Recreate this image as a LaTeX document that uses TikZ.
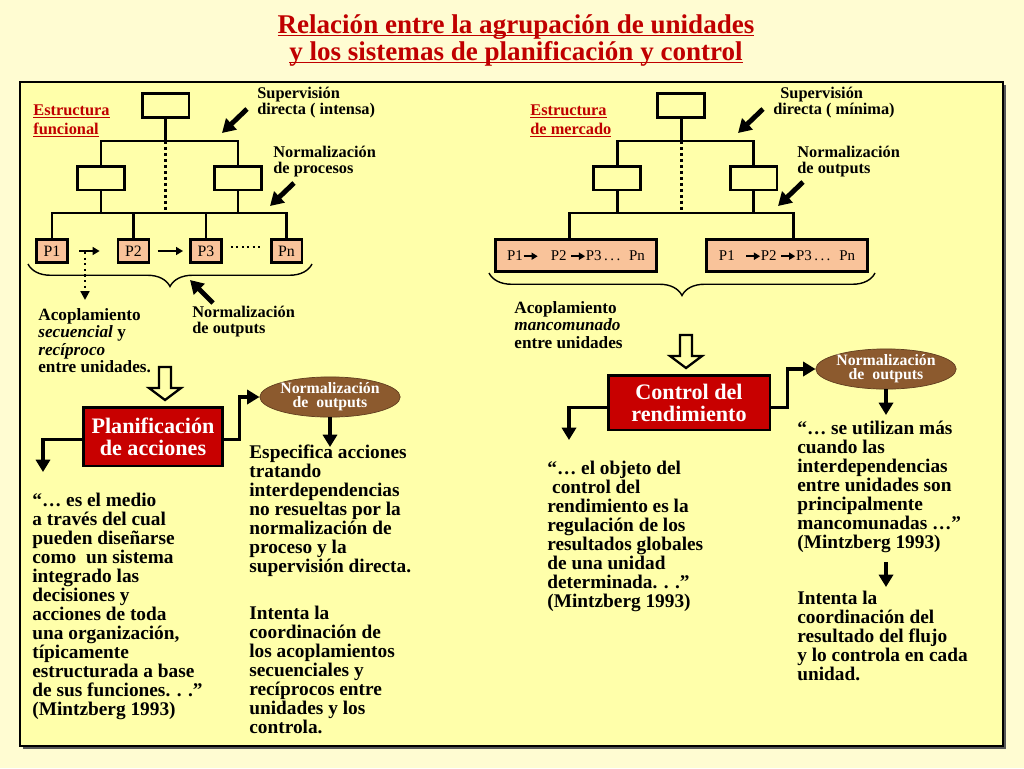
\documentclass[tikz,border=0pt]{standalone}
\usepackage{fontspec}
\setmainfont{Liberation Serif}
\usetikzlibrary{shapes.geometric, arrows.meta, positioning, calc, decorations.pathreplacing}
\newsavebox{\undlbox}
\newcommand{\undl}[1]{\sbox{\undlbox}{#1}\rlap{\rule[-1.8pt]{\wd\undlbox}{0.9pt}}\usebox{\undlbox}}
\definecolor{pagebg}{HTML}{FFFCD2}
\definecolor{framebg}{HTML}{FFFFAA}
\definecolor{titlered}{HTML}{C00000}
\definecolor{boxred}{HTML}{C80000}
\definecolor{peach}{HTML}{F9C39A}
\definecolor{ellbrown}{HTML}{8C5A2E}
\newcommand{\parr}{\tikz[baseline=-0.6ex]\draw[line width=0.9pt, -{Triangle[length=3.5pt,width=4pt]}] (0pt,0pt) -- (8pt,0pt);}
\tikzset{
    orgbox/.style = {draw, line width=1.7pt, minimum width=0.94cm, minimum height=0.48cm, inner sep=0pt},
    pbox/.style = {draw, line width=1.7pt, fill=peach, minimum width=0.62cm, minimum height=0.46cm, inner sep=0pt, font=\fontsize{9}{9}\selectfont},
    widebox/.style = {draw, line width=1.7pt, fill=peach, minimum width=3.22cm, minimum height=0.64cm, inner sep=0pt, font=\fontsize{8.5}{8.5}\selectfont},
    redbox/.style = {draw, line width=1.7pt, fill=boxred, text=white, align=center, inner sep=0pt, font=\bfseries\fontsize{12.6}{12.5}\selectfont},
    normell/.style = {draw=ellbrown!70!black, ellipse, fill=ellbrown, text=white, align=center, inner sep=0pt, minimum width=2.76cm, minimum height=0.8cm, font=\bfseries\fontsize{9}{8}\selectfont},
    link/.style = {line width=1.7pt},
    dotlink/.style = {line width=1.7pt, dash pattern=on 1.7pt off 1.7pt},
    pointer/.style = {line width=2.8pt, -{Triangle[length=7.5pt,width=8.5pt]}},
    elbow/.style = {line width=2.2pt, -{Triangle[length=7pt,width=8pt]}},
    parrow/.style = {line width=1pt, -{Triangle[length=4pt,width=4.5pt]}},
    dotarrow/.style = {line width=1.2pt, dotted, -{Triangle[length=5pt,width=5pt]}},
    brace/.style = {decorate, decoration={brace, mirror, amplitude=0.45cm}, line width=0.8pt},
    % multi-line texts are placed at the baseline of their last line
    txt/.style = {anchor=base west, align=left, inner sep=0pt, font=\bfseries\fontsize{11}{10.8}\selectfont},
    lbl/.style = {anchor=base west, align=left, inner sep=0pt, font=\bfseries\fontsize{9.3}{8.6}\selectfont},
    acop/.style = {anchor=base west, align=left, inner sep=0pt, font=\bfseries\fontsize{9.8}{9.9}\selectfont},
    estr/.style = {anchor=base west, align=left, inner sep=0pt, text=titlered, font=\bfseries\fontsize{9.3}{10.8}\selectfont},
    hollowdown/.pic = {\draw[line width=1.3pt, fill=framebg] (-6,0) -- (-6,21) -- (-16,21) -- (0,33) -- (16,21) -- (6,21) -- (6,0) -- cycle;}
}

\begin{document}
\begin{tikzpicture}[x=0.02cm, y=-0.02cm]
    \useasboundingbox (0,0) rectangle (1024,768);
    \fill[pagebg] (0,0) rectangle (1024,768);
    % frame with shadow
    \fill[black!65] (22.5,84.5) rectangle (1005.5,748.5);
    \draw[fill=framebg, line width=0.6pt] (20,82) rectangle (1003,746);

    % title
    \node[anchor=base, align=center, inner sep=0pt, text=titlered, font=\bfseries\fontsize{15.4}{11.4}\selectfont] (title) at (516,60)
        {\undl{Relación entre la agrupación de unidades}\\\undl{y los sistemas de planificación y control}};

    % estructura funcional
    \node[estr] (estf) at (33,134) {\undl{Estructura}\\\undl{funcional}};
    \node[orgbox] (ft) at (165.5,105.5) {};
    \node[orgbox] (fl) at (101,178) {};
    \node[orgbox] (fr) at (238,178) {};
    \node[pbox] (p1) at (52,251) {P1};
    \node[pbox] (p2) at (133.5,251) {P2};
    \node[pbox] (p3) at (206,251) {P3};
    \node[pbox] (pn) at (286.5,251) {Pn};
    \coordinate (fj) at (165.5,141);
    \coordinate (fk) at (165.5,213);
    \draw[link] (ft.south) -- (fj);
    \draw[link] (fl.north) |- (fj) -| (fr.north);
    \draw[dotlink] (fj) -- (fk);
    \draw[link] (fl.south) -- (fl.south |- fk);
    \draw[link] (fr.south) -- (fr.south |- fk);
    \draw[link] (p1.north) |- (fk) -| (pn.north);
    \draw[link] (p2.north) -- (p2.north |- fk);
    \draw[link] (p3.north) -- (p3.north |- fk);
    \draw[parrow, shorten <=5.7pt, shorten >=9.6pt] (p1) -- (p2);
    \draw[parrow, shorten <=4pt, shorten >=3.4pt] (p2) -- (p3);
    \draw[dotted, line width=1.1pt, shorten <=4.5pt, shorten >=4.5pt] ($(p3.east)+(0,-4)$) -- ($(pn.west)+(0,-4)$);
    \coordinate (fd1) at (85,252);
    \coordinate (fd2) at (85,300);
    \draw[dotarrow] (fd1) -- (fd2);
    \coordinate (fb1) at (28,264);
    \coordinate (fb2) at (312,264);
    \draw[brace] (fb1) -- (fb2);

    \node[lbl] (supf) at (257,114) {Supervisión\\directa ( intensa)};
    \node[lbl] (nprf) at (273,173) {Normalización\\de procesos};
    \node[lbl] (nouf) at (192,333) {Normalización\\de outputs};
    \node[acop] (acf) at (38,372.5) {Acoplamiento\\\textit{secuencial} y\\\textit{recíproco}\\entre unidades.};
    \coordinate (fs1) at (247,109);
    \coordinate (fs2) at (222,133);
    \draw[pointer] (fs1) -- (fs2);
    \coordinate (fn1) at (294,183);
    \coordinate (fn2) at (270,206);
    \draw[pointer] (fn1) -- (fn2);
    \coordinate (fo1) at (213,303);
    \coordinate (fo2) at (190,280);
    \draw[pointer] (fo1) -- (fo2);

    % planificacion de acciones
    \pic at (165,367) {hollowdown};
    \node[redbox, minimum width=2.8cm, minimum height=1.18cm] (pa) at (153,436.5) {Planificación\\de acciones};
    \node[normell] (na) at (330,397) {Normalización\\de\ \ outputs};
    \coordinate (pa-l) at (43,472);
    \draw[elbow] ($(pa.west)+(0,3)$) -| (pa-l);
    \draw[elbow] ($(pa.east)+(0,3)$) -- ++(15,0) |- (na.west);
    \coordinate (na-d) at (330,447);
    \draw[elbow] (na.south) -- (na-d);

    \node[txt] (quoteL) at (32,715.5) {“… es el medio\\a través del cual\\pueden diseñarse\\como\ \ un sistema\\integrado las\\decisiones y\\acciones de toda\\una organización,\\típicamente\\estructurada a base\\de sus funciones. . .”\\(Mintzberg 1993)};
    \node[txt] (espf) at (249,572.3) {Especifica acciones\\tratando\\interdependencias\\no resueltas por la\\normalización de\\proceso y la\\supervisión directa.};
    \node[txt] (intf) at (249,733.3) {Intenta la\\coordinación de\\los acoplamientos\\secuenciales y\\recíprocos entre\\unidades y los\\controla.};

    % estructura de mercado
    \node[estr] (estm) at (530,134) {\undl{Estructura}\\\undl{de mercado}};
    \node[orgbox] (mt) at (681,105.5) {};
    \node[orgbox] (ml) at (617,178) {};
    \node[orgbox] (mr) at (753.5,178) {};
    \node[widebox] (ua) at (576,255.5) {P1\parr\hspace{7pt}P2 \parr P3\,.\,.\,.\hspace{5pt}Pn};
    \node[widebox] (ub) at (787,255.5) {P1\hspace{6pt}\parr P2 \parr P3\,.\,.\,.\hspace{5pt}Pn};
    \coordinate (mj) at (681,141);
    \coordinate (mk) at (681,213);
    \coordinate (mk1) at (569,213);
    \coordinate (mk2) at (793,213);
    \draw[link] (mt.south) -- (mj);
    \draw[link] (ml.north) |- (mj) -| (mr.north);
    \draw[dotlink] (mj) -- (mk);
    \draw[link] (ml.south) -- (ml.south |- mk);
    \draw[link] (mr.south) -- (mr.south |- mk);
    \draw[link] (mk1 |- ua.north) -- (mk1) -- (mk2) -- (mk2 |- ub.north);
    \coordinate (mb1) at (489,273);
    \coordinate (mb2) at (875,273);
    \draw[brace] (mb1) -- (mb2);

    \node[lbl] (supm) at (773,114) {\hspace{4pt}Supervisión\\directa ( mínima)};
    \node[lbl] (noum) at (797,173) {Normalización\\de outputs};
    \node[acop] (acm) at (514,348) {Acoplamiento\\\textit{mancomunado}\\entre unidades};
    \coordinate (ms1) at (763,109);
    \coordinate (ms2) at (738,133);
    \draw[pointer] (ms1) -- (ms2);
    \coordinate (mn1) at (803,182);
    \coordinate (mn2) at (778,206);
    \draw[pointer] (mn1) -- (mn2);

    % control del rendimiento
    \pic at (686,335) {hollowdown};
    \node[redbox, minimum width=3.24cm, minimum height=1.1cm] (cr) at (689,402.5) {Control del\\rendimiento};
    \node[normell] (nb) at (886,369) {Normalización\\de\ \ outputs};
    \coordinate (cr-l) at (569,440);
    \draw[elbow] ($(cr.west)+(0,5)$) -| (cr-l);
    \draw[elbow] ($(cr.east)+(0,5)$) -- ++(16,0) |- (nb.west);
    \coordinate (nb-d) at (886,415);
    \draw[elbow] (nb.south) -- (nb-d);

    \node[txt] (quoteM) at (547,607.4) {“… el objeto del\\\ control del\\rendimiento es la\\regulación de los\\resultados globales\\de una unidad\\determinada. . .”\\(Mintzberg 1993)};
    \node[txt] (quoteR) at (797,548.3) {“… se utilizan más\\cuando las\\interdependencias\\entre unidades son\\principalmente\\mancomunadas …”\\(Mintzberg 1993)};
    \coordinate (qr-d1) at (886,562);
    \coordinate (qr-d2) at (886,587);
    \draw[elbow] (qr-d1) -- (qr-d2);
    \node[txt] (intm) at (797,680.2) {Intenta la\\coordinación del\\resultado del flujo\\y lo controla en cada\\unidad.};
\end{tikzpicture}
\end{document}
